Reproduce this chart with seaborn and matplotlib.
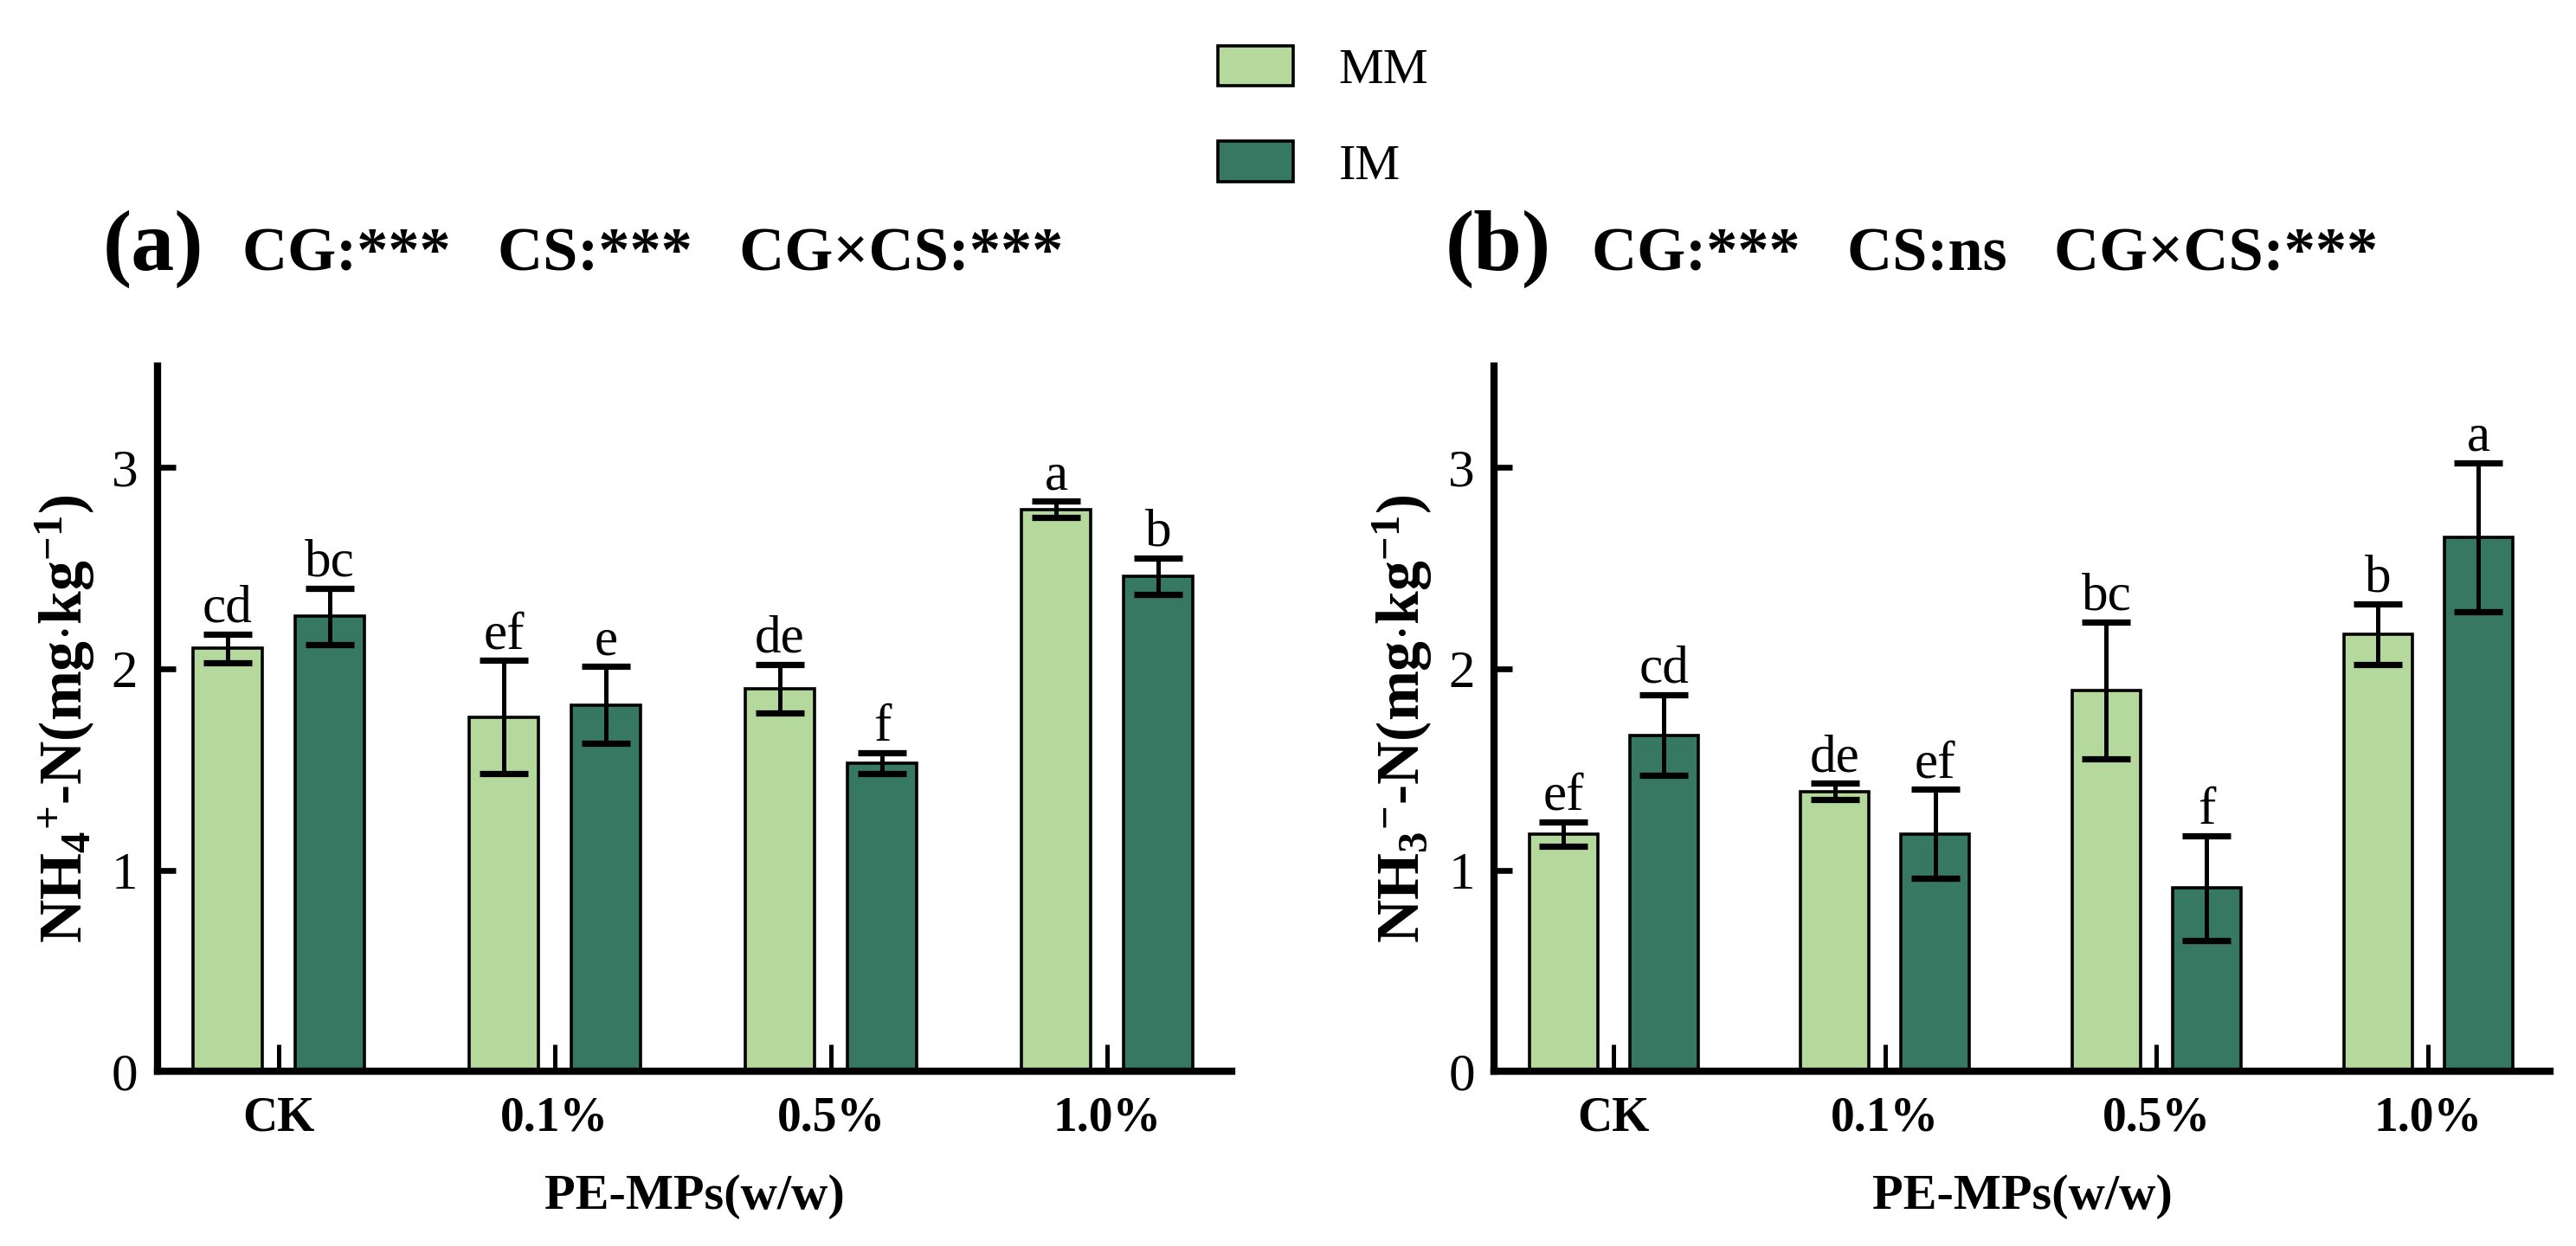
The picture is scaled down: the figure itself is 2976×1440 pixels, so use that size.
import numpy as np
import pandas as pd
import matplotlib
matplotlib.use("Agg")
import matplotlib.pyplot as plt
from matplotlib.patches import Patch
import seaborn as sns

groups = ["CK", "0.1%", "0.5%", "1.0%"]
treatments = ["MM", "IM"]

# (a) NH4+-N
a_mm = [2.10, 1.76, 1.90, 2.79]
a_mm_err = [0.07, 0.28, 0.12, 0.04]
a_im = [2.26, 1.82, 1.53, 2.46]
a_im_err = [0.14, 0.19, 0.05, 0.09]
a_mm_lab = ["cd", "ef", "de", "a"]
a_im_lab = ["bc", "e", "f", "b"]

# (b) NH3--N
b_mm = [1.18, 1.39, 1.89, 2.17]
b_mm_err = [0.06, 0.04, 0.34, 0.15]
b_im = [1.67, 1.18, 0.91, 2.65]
b_im_err = [0.20, 0.22, 0.26, 0.37]
b_mm_lab = ["ef", "de", "bc", "b"]
b_im_lab = ["cd", "ef", "f", "a"]

colors = ["#b5d99c", "#367862"]

sns.set_theme(style="ticks")
plt.rcParams['font.family'] = ['Liberation Serif', 'DejaVu Serif']
plt.rcParams['text.color'] = 'black'
plt.rcParams['axes.labelcolor'] = 'black'
plt.rcParams['xtick.color'] = 'black'
plt.rcParams['ytick.color'] = 'black'
plt.rcParams['mathtext.fontset'] = 'custom'
plt.rcParams['mathtext.rm'] = 'Liberation Serif:bold'
plt.rcParams['mathtext.bf'] = 'Liberation Serif:bold'
plt.rcParams['mathtext.it'] = 'Liberation Serif:bold'


def draw_panel(ax, mm, mm_err, im, im_err, mm_lab, im_lab, ylabel):
    df = pd.DataFrame({
        "group": groups * 2,
        "trt": ["MM"] * 4 + ["IM"] * 4,
        "val": mm + im,
    })
    sns.barplot(data=df, x="group", y="val", hue="trt", order=groups,
                hue_order=treatments, palette=colors, saturation=1, width=0.74, gap=0.32,
                edgecolor="black", linewidth=1.3, errorbar=None, legend=False, ax=ax)
    vals = [mm, im]
    errs = [mm_err, im_err]
    labs = [mm_lab, im_lab]
    bars = [p for p in ax.patches if p.get_height() > 0]
    bars = sorted(bars, key=lambda p: p.get_x())
    for k, p in enumerate(bars):
        g, t = k // 2, k % 2
        x = p.get_x() + p.get_width() / 2
        v, e = vals[t][g], errs[t][g]
        ax.errorbar(x, v, yerr=e, color="black", elinewidth=1.8, capsize=10,
                    capthick=2.6, fmt="none")
        ax.text(x, v + e + 0.005, labs[t][g], ha="center", va="bottom", fontsize=22)
    ax.set_ylim(0, 3.5)
    ax.set_xlim(-0.44, 3.45)
    ax.set_yticks([0, 1, 2, 3])
    ax.set_yticklabels(["0", "1", "2", "3"], fontsize=22)
    ax.set_xticks(range(4))
    ax.set_xticklabels(groups, fontsize=20, fontweight="bold")
    ax.tick_params(axis="y", direction="in", length=7.5, width=2.4, pad=8)
    ax.tick_params(axis="x", direction="in", length=11, width=1.8, pad=10)
    sns.despine(ax=ax)
    for s in ["left", "bottom"]:
        ax.spines[s].set_linewidth(3.0)
        ax.spines[s].set_color("black")
    ax.set_xlabel("PE-MPs(w/w)", fontsize=21, fontweight="bold", labelpad=14)
    ax.set_ylabel(ylabel, fontsize=25, fontweight="bold", labelpad=6)


fig = plt.figure(figsize=(14.88, 7.2), dpi=200)
ax1 = fig.add_axes([0.061, 0.140, 0.417, 0.566])
ax2 = fig.add_axes([0.580, 0.140, 0.410, 0.566])

draw_panel(ax1, a_mm, a_mm_err, a_im, a_im_err, a_mm_lab, a_im_lab,
           r"NH$_4$$^{+}$-N(mg$\cdot$kg$^{-1}$)")
draw_panel(ax2, b_mm, b_mm_err, b_im, b_im_err, b_mm_lab, b_im_lab,
           r"NH$_3$$^{-}$-N(mg$\cdot$kg$^{-1}$)")

fig.text(0.040, 0.80, "(a)", fontsize=36, fontweight="bold", va="center")
fig.text(0.094, 0.795, "CG:***   CS:***   CG×CS:***", fontsize=26, fontweight="bold", va="center")
fig.text(0.561, 0.80, "(b)", fontsize=36, fontweight="bold", va="center")
fig.text(0.618, 0.795, "CG:***   CS:ns   CG×CS:***", fontsize=26, fontweight="bold", va="center")

handles = [Patch(facecolor=colors[i], edgecolor="black", linewidth=1.3, label=t)
           for i, t in enumerate(treatments)]
fig.legend(handles=handles, loc="upper left", bbox_to_anchor=(0.455, 1.0),
           frameon=False, fontsize=21, handlelength=1.5, handleheight=0.85,
           labelspacing=0.95, handletextpad=0.9)

fig.savefig("out.png", dpi=200)
